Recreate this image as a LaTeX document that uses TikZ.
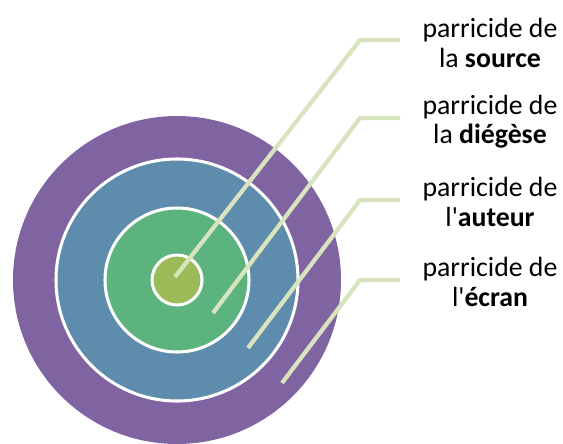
\documentclass[tikz,border=0pt]{standalone}
\usepackage{fontspec}
\setmainfont{Carlito}[Ligatures=TeXOff]
\definecolor{ecranviolet}{HTML}{8064A2}
\definecolor{auteurbleu}{HTML}{5E8CAD}
\definecolor{diegesevert}{HTML}{5DB37E}
\definecolor{sourceolive}{HTML}{9BBB59}
\definecolor{traitvert}{HTML}{D7E4BD}
\tikzset{
  anneau/.style={draw=white, line width=2.6pt},
  trait/.style={draw=traitvert, line width=3.6pt},
  legende/.style={align=center, inner sep=0pt, font=\fontsize{23.7}{25}\selectfont}
}
\begin{document}
\begin{tikzpicture}[x=0.03cm,y=-0.03cm]
  \useasboundingbox (0,0) rectangle (563,443);
  % cibles
  \fill[ecranviolet] (177,280) circle (164);
  \filldraw[anneau, fill=auteurbleu] (177,280) circle (121);
  \filldraw[anneau, fill=diegesevert] (177,280) circle (72);
  \filldraw[anneau, fill=sourceolive] (177,280) circle (25);
  % legendes
  \node[legende] (source) at (490,43) {parricide de\\la \textbf{source}};
  \node[legende] (diegese) at (490,122) {parricide de\\la \textbf{diégèse}};
  \node[legende] (auteur) at (490,202) {parricide de\\l'\textbf{auteur}};
  \node[legende] (ecran) at (490,282) {parricide de\\l'\textbf{écran}};
  % traits
  \coordinate (s1) at (400,40);
  \coordinate (s2) at (400,118);
  \coordinate (s3) at (400,200);
  \coordinate (s4) at (400,280);
  \coordinate (k1) at (360,40);
  \coordinate (k2) at (360,118);
  \coordinate (k3) at (360,200);
  \coordinate (k4) at (360,280);
  \coordinate (p1) at (175,277);
  \coordinate (p2) at (213,313);
  \coordinate (p3) at (248,348);
  \coordinate (p4) at (282,383);
  \foreach \i in {1,...,4}
    \draw[trait] (s\i) -- (k\i) -- (p\i);
\end{tikzpicture}
\end{document}
